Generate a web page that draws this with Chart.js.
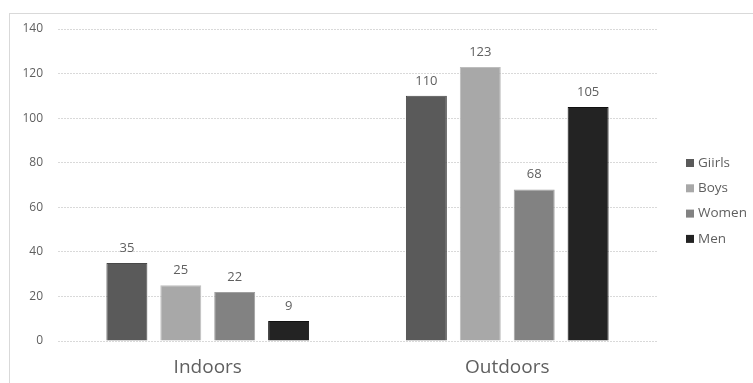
<!DOCTYPE html>
<html lang="en">
<head>
  <meta charset="UTF-8" />
  <title>Indoors vs Outdoors</title>
  <script src="https://cdnjs.cloudflare.com/ajax/libs/Chart.js/4.4.1/chart.umd.min.js"></script>
  <style>
    body { margin: 0; background: #fff; font-family: "Open Sans", sans-serif; }
    #frame { position: absolute; left: 9px; top: 13px; width: 744px; height: 370px;
             border: 1px solid #d9d9d9; border-bottom: none; border-right: none; box-sizing: border-box; }
    #wrap { position: absolute; left: 0; top: 0; width: 753px; height: 383px; }
  </style>
</head>
<body>
  <div id="frame"></div>
  <div id="wrap"><canvas id="barChart" width="753" height="383"></canvas></div>

  <script>
    const categories = ['Indoors', 'Outdoors']
    const seriesNames = ['Giirls', 'Boys', 'Women', 'Men']
    const girls = [35, 110]
    const boys = [25, 123]
    const women = [22, 68]
    const men = [9, 105]
    const yTicks = [0, 20, 40, 60, 80, 100, 120, 140]

    const fills = ['#5a5a5a', '#a8a8a8', '#828282', '#232323']
    const edges = ['#484848', '#bdbdbd', '#a0a0a0', '#111111']
    const textGrey = '#5f5f5f'

    // value labels above each bar
    const valueLabels = {
      id: 'valueLabels',
      afterDatasetsDraw(chart) {
        const ctx = chart.ctx
        ctx.save()
        ctx.font = '13px "Open Sans"'
        ctx.fillStyle = textGrey
        ctx.textAlign = 'center'
        ctx.textBaseline = 'middle'
        chart.data.datasets.forEach((ds, i) => {
          chart.getDatasetMeta(i).data.forEach((bar, j) => {
            ctx.fillText(ds.data[j], bar.x, bar.y - 15)
          })
        })
        ctx.restore()
      }
    }

    // legend drawn at the right side
    const sideLegend = {
      id: 'sideLegend',
      afterDraw(chart) {
        const ctx = chart.ctx
        ctx.save()
        ctx.font = '13.5px "Open Sans"'
        ctx.textBaseline = 'middle'
        chart.data.datasets.forEach((ds, i) => {
          const y = 163 + i * 25.3
          ctx.fillStyle = ds.backgroundColor
          ctx.fillRect(686, y - 4, 8, 8)
          ctx.fillStyle = textGrey
          ctx.fillText(ds.label, 698, y)
        })
        ctx.restore()
      }
    }

    const seriesData = [girls, boys, women, men]

    new Chart(document.getElementById('barChart'), {
      type: 'bar',
      data: {
        labels: categories,
        datasets: seriesNames.map((name, i) => ({
          label: name,
          data: seriesData[i],
          backgroundColor: fills[i],
          borderColor: edges[i],
          borderWidth: 1,
          categoryPercentage: 0.72,
          barPercentage: 0.76
        }))
      },
      options: {
        responsive: false,
        animation: false,
        layout: { padding: { top: 29, right: 96, left: 0, bottom: 0 } },
        plugins: { legend: { display: false }, tooltip: { enabled: false } },
        scales: {
          x: {
            grid: { display: false, drawTicks: false },
            border: { display: false },
            ticks: { color: textGrey, font: { family: 'Open Sans', size: 19 }, padding: 15 },
            afterFit(s) { s.height = 42 }
          },
          y: {
            min: 0,
            max: 140,
            afterBuildTicks(s) { s.ticks = yTicks.map(v => ({ value: v })) },
            grid: { color: '#d9d9d9', drawTicks: false },
            border: { display: false, dash: [2, 1] },
            ticks: { color: textGrey, font: { family: 'Open Sans', size: 12 }, padding: 15 },
            afterFit(s) { s.width = 58 }
          }
        }
      },
      plugins: [valueLabels, sideLegend]
    })
  </script>
</body>
</html>
